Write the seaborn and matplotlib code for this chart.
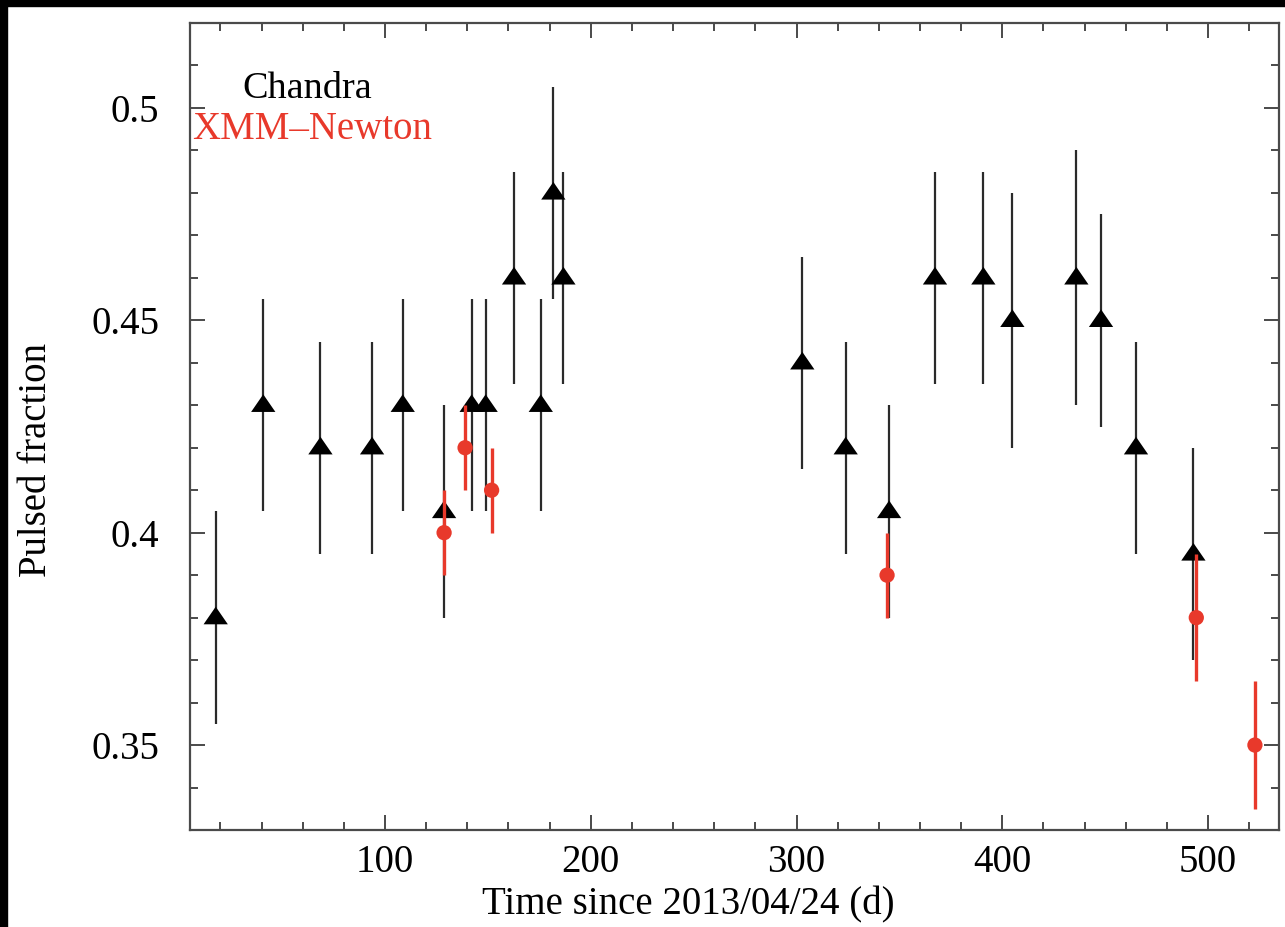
import numpy as np
import pandas as pd
import matplotlib
matplotlib.use("Agg")
import matplotlib.pyplot as plt
from matplotlib.patches import Rectangle
import seaborn as sns

# ---- data ----
chandra_t = [17.7, 40.8, 68.6, 93.7, 108.6, 128.7, 142.1, 148.9, 162.7, 175.7, 181.8, 186.7,
             302.8, 323.9, 345.0, 367.3, 390.8, 404.9, 436.0, 448.0, 465.0, 492.9]
chandra_pf = [0.38, 0.43, 0.42, 0.42, 0.43, 0.405, 0.43, 0.43, 0.46, 0.43, 0.48, 0.46,
              0.44, 0.42, 0.405, 0.46, 0.46, 0.45, 0.46, 0.45, 0.42, 0.395]
chandra_err = [0.025, 0.025, 0.025, 0.025, 0.025, 0.025, 0.025, 0.025, 0.025, 0.025, 0.025, 0.025,
               0.025, 0.025, 0.025, 0.025, 0.025, 0.03, 0.03, 0.025, 0.025, 0.025]

xmm_t = [128.7, 138.9, 151.8, 344.0, 494.3, 522.8]
xmm_pf = [0.40, 0.42, 0.41, 0.39, 0.38, 0.35]
xmm_err = [0.01, 0.01, 0.01, 0.01, 0.015, 0.015]

x_major = [100, 200, 300, 400, 500]
x_labels = ["100", "200", "300", "400", "500"]
y_major = [0.35, 0.40, 0.45, 0.50]
y_labels = ["0.35", "0.4", "0.45", "0.5"]

chandra = pd.DataFrame({"t": chandra_t, "pf": chandra_pf, "err": chandra_err})
xmm = pd.DataFrame({"t": xmm_t, "pf": xmm_pf, "err": xmm_err})

# ---- style ----
sns.set_theme(style="ticks")
plt.rcParams["font.family"] = ["Liberation Serif", "DejaVu Serif"]
plt.rcParams["mathtext.fontset"] = "stix"

RED = "#e8392b"
SPINE = "#4a4a4a"

fig = plt.figure(figsize=(12.85, 9.27), dpi=100)
fig.patch.set_facecolor("white")
ax = fig.add_axes([190 / 1285, 97 / 927, 1089 / 1285, 807 / 927])

tri = [(-1, -0.55), (1, -0.55), (0, 0.9), (-1, -0.55)]

# Chandra
ax.errorbar(chandra["t"], chandra["pf"], yerr=chandra["err"], fmt="none",
            ecolor="#2a2a2a", elinewidth=1.6, capsize=0, zorder=2)
sns.scatterplot(data=chandra, x="t", y="pf", ax=ax, marker=tri, s=17.5 ** 2,
                color="black", edgecolor="none", linewidth=0, zorder=3, legend=False)

# XMM-Newton
ax.errorbar(xmm["t"], xmm["pf"], yerr=xmm["err"], fmt="none",
            ecolor=RED, elinewidth=2.4, capsize=0, zorder=4)
sns.scatterplot(data=xmm, x="t", y="pf", ax=ax, marker="o", s=11 ** 2,
                color=RED, edgecolor="none", linewidth=0, zorder=5, legend=False)

ax.set_xlim(5.2, 534.5)
ax.set_ylim(0.33, 0.52)

ax.set_xticks(x_major)
ax.set_xticklabels(x_labels)
ax.set_xticks(np.arange(20, 535, 20), minor=True)
ax.set_yticks(y_major)
ax.set_yticklabels(y_labels)
ax.set_yticks(np.arange(0.33, 0.521, 0.01), minor=True)

for s in ax.spines.values():
    s.set_visible(True)
    s.set_color(SPINE)
    s.set_linewidth(1.6)

ax.tick_params(which="both", direction="in", top=True, right=True,
               color=SPINE, width=1.4, labelsize=28, labelcolor="black")
ax.tick_params(which="major", length=11)
ax.tick_params(which="minor", length=6)
ax.tick_params(axis="x", which="major", pad=10)
ax.tick_params(axis="y", which="major", pad=22)

ax.set_xlabel("Time since 2013/04/24 (d)", fontsize=28, color="black")
ax.set_ylabel("Pulsed fraction", fontsize=28, color="black")
ax.xaxis.set_label_coords(0.458, -0.093)
ax.yaxis.set_label_coords(-0.1405, 0.4585)
ax.xaxis.label.set_va("center")
ax.yaxis.label.set_va("center")

ax.text(0.108, 0.919, "Chandra", transform=ax.transAxes, fontsize=27.5,
        ha="center", va="center", color="black")
ax.text(0.112, 0.868, "XMM\u2013Newton", transform=ax.transAxes, fontsize=28,
        ha="center", va="center", color=RED)

# black frame strips of the original screenshot
fig.add_artist(Rectangle((0, 1 - 6 / 927), 1, 6 / 927, transform=fig.transFigure,
                         color="black", zorder=10))
fig.add_artist(Rectangle((0, 0), 7 / 1285, 1, transform=fig.transFigure,
                         color="black", zorder=10))

fig.savefig("out.png", dpi=100, facecolor="white")
